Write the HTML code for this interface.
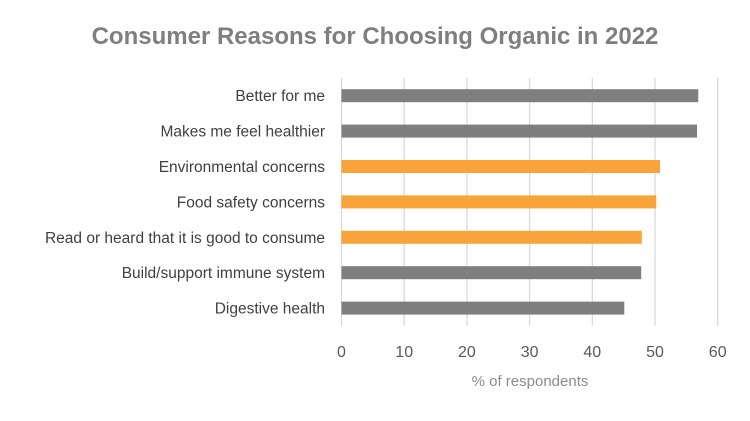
<!DOCTYPE html>
<html><head><meta charset="utf-8"><style>
body{margin:0;background:#fff;font-family:"Liberation Sans",sans-serif;}
</style></head><body>
<svg id="chart" width="750" height="416" xmlns="http://www.w3.org/2000/svg">
<rect width="750" height="416" fill="#fff"/>
<text x="375" y="44" text-anchor="middle" font-size="24" font-weight="bold" fill="#7f7f7f">Consumer Reasons for Choosing Organic in 2022</text>
<text x="530" y="386" text-anchor="middle" font-size="15" fill="#8c8c8c">% of respondents</text>
<g id="grid"></g><g id="bars"></g><g id="labels"></g><g id="ticks"></g>
</svg>
<script>
const categories=["Better for me","Makes me feel healthier","Environmental concerns","Food safety concerns","Read or heard that it is good to consume","Build/support immune system","Digestive health"];
const values=[56.9,56.7,50.8,50.2,47.9,47.8,45.1];
const highlight=[false,false,true,true,true,false,false];
const tickLabels=[0,10,20,30,40,50,60];
const ns="http://www.w3.org/2000/svg";
const x0=341.5,x1=717.7,xMax=60,yTop=78,step=35.4;
function xs(v){return x0+(x1-x0)*v/xMax;}
function yc(i){return yTop+step*(i+0.5);}
function mk(t,a,p){const e=document.createElementNS(ns,t);for(const k in a)e.setAttribute(k,a[k]);document.getElementById(p).appendChild(e);return e;}
tickLabels.forEach(t=>{
 const l=mk('line',{x1:xs(t),x2:xs(t),y1:yTop,y2:yTop+step*categories.length,stroke:'#d9d9d9','stroke-width':1.3},'grid');
 
 
 const tx=mk('text',{x:xs(t),y:357,'text-anchor':'middle','font-size':16,fill:'#595959'},'ticks');
 tx.textContent=t;
 
 
});
categories.forEach((c,i)=>{
 const r=mk('rect',{x:xs(0),y:yc(i)-6.5,width:xs(values[i])-xs(0),height:13,fill:highlight[i]?'#f9a43a':'#7f7f7f'},'bars');
 
 
 const t=mk('text',{x:325,y:yc(i)+5.5,'text-anchor':'end','font-size':15.5,fill:'#404040'},'labels');
 t.textContent=c;
 
 
});
</script>
</body></html>
